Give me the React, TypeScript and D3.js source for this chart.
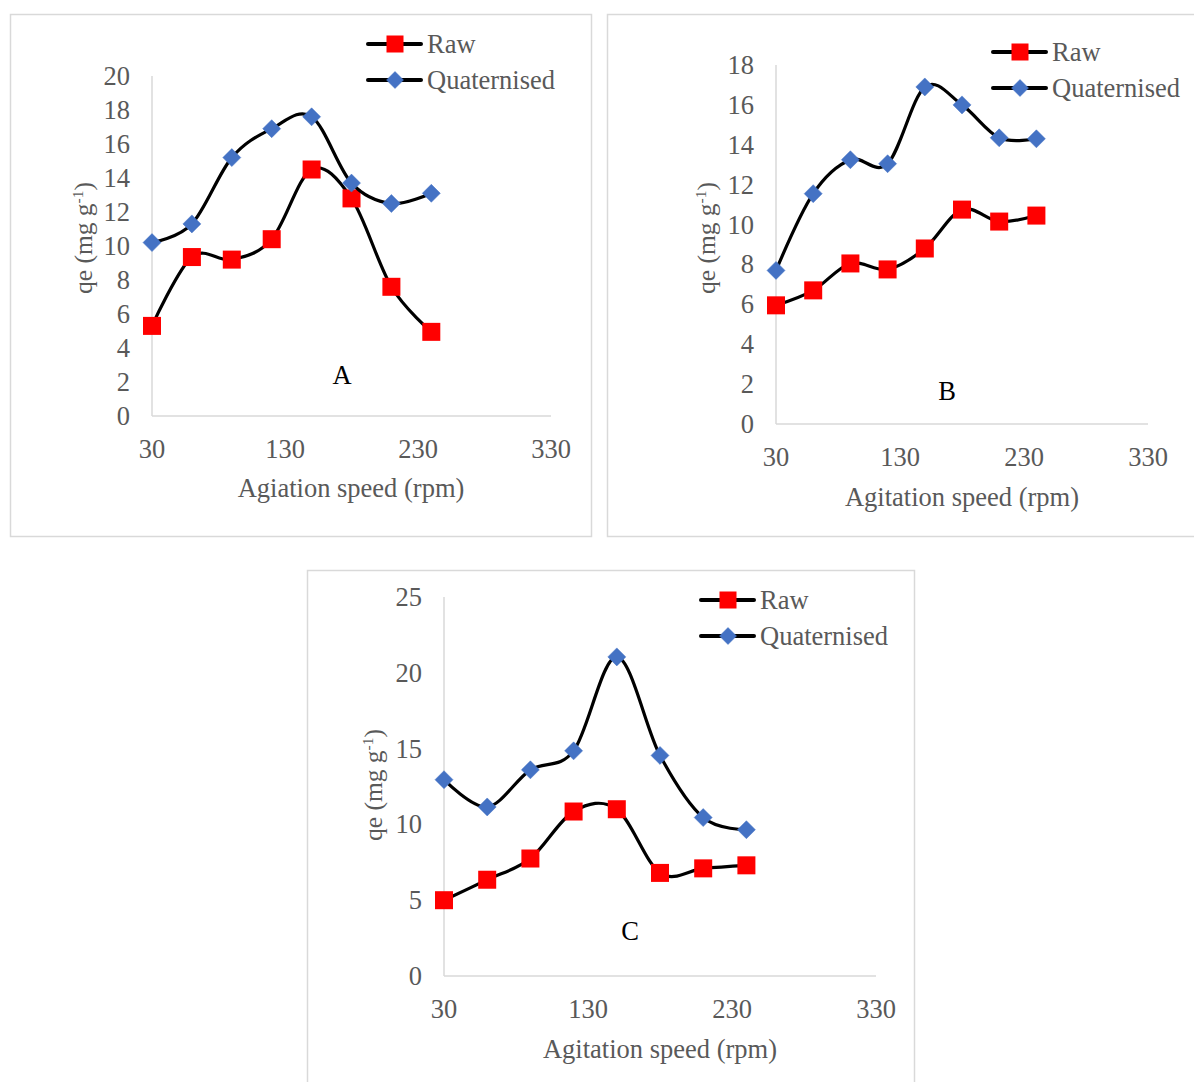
import React from "react";
import * as d3 from "d3";

// ---------- data ----------
const speeds = [30, 60, 90, 120, 150, 180, 210, 240];

const rawA = [5.3, 9.35, 9.2, 10.4, 14.5, 12.8, 7.6, 4.95];
const quatA = [10.2, 11.3, 15.2, 16.9, 17.6, 13.7, 12.5, 13.1];

const rawB = [5.95, 6.7, 8.05, 7.75, 8.8, 10.75, 10.15, 10.45];
const quatB = [7.7, 11.55, 13.25, 13.05, 16.9, 16.0, 14.35, 14.3];

const rawC = [5.0, 6.35, 7.75, 10.85, 11.0, 6.8, 7.1, 7.3];
const quatC = [12.95, 11.15, 13.6, 14.85, 21.05, 14.55, 10.45, 9.65];

const xTicks = [30, 130, 230, 330];
const yTicksA = [0, 2, 4, 6, 8, 10, 12, 14, 16, 18, 20];
const yTicksB = [0, 2, 4, 6, 8, 10, 12, 14, 16, 18];
const yTicksC = [0, 5, 10, 15, 20, 25];

const seriesNames = ["Raw", "Quaternised"];
const panelLetters = ["A", "B", "C"];
const xTitles = ["Agiation speed (rpm)", "Agitation speed (rpm)", "Agitation speed (rpm)"];

// ---------- style ----------
const FONT = "'Liberation Serif', 'Times New Roman', serif";
const FS = 26.5;
const GRAY = "#595959";
const AXIS = "#d9d9d9";
const RED = "#ff0000";
const BLUE = "#4472c4";

type Panel = {
  raw: number[];
  quat: number[];
  yTicks: number[];
  box: { x: number; y: number; w: number; h: number };
  plot: { l: number; r: number; t: number; b: number };
  letter: string;
  letterPos: [number, number];
  legend: [number, number];
  xTitle: string;
  xTitlePos: [number, number];
  yTitlePos: [number, number];
};

const panels: Panel[] = [
  {
    raw: rawA,
    quat: quatA,
    yTicks: yTicksA,
    box: { x: 10.5, y: 14.5, w: 581, h: 522 },
    plot: { l: 152, r: 551, t: 76, b: 416 },
    letter: panelLetters[0],
    letterPos: [342, 384],
    legend: [368, 44],
    xTitle: xTitles[0],
    xTitlePos: [351, 497],
    yTitlePos: [92, 238],
  },
  {
    raw: rawB,
    quat: quatB,
    yTicks: yTicksB,
    box: { x: 607.5, y: 14.5, w: 600, h: 522 },
    plot: { l: 776, r: 1148, t: 65, b: 424 },
    letter: panelLetters[1],
    letterPos: [947, 400],
    legend: [993, 52],
    xTitle: xTitles[1],
    xTitlePos: [962, 506],
    yTitlePos: [715, 238],
  },
  {
    raw: rawC,
    quat: quatC,
    yTicks: yTicksC,
    box: { x: 307.5, y: 570.5, w: 607, h: 530 },
    plot: { l: 444, r: 876, t: 597, b: 976 },
    letter: panelLetters[2],
    letterPos: [630, 940],
    legend: [701, 600],
    xTitle: xTitles[2],
    xTitlePos: [660, 1058],
    yTitlePos: [382, 785],
  },
];

function Square({ x, y, s = 18 }: { x: number; y: number; s?: number }) {
  return <rect x={x - s / 2} y={y - s / 2} width={s} height={s} fill={RED} />;
}

function Diamond({ x, y, s = 9 }: { x: number; y: number; s?: number }) {
  return (
    <path
      d={`M${x},${y - s}L${x + s},${y}L${x},${y + s}L${x - s},${y}Z`}
      fill={BLUE}
      stroke={BLUE}
      strokeWidth={0.5}
    />
  );
}

function PanelChart({ p }: { p: Panel }) {
  const x = d3.scaleLinear().domain([30, 330]).range([p.plot.l, p.plot.r]);
  const yMax = p.yTicks[p.yTicks.length - 1];
  const y = d3.scaleLinear().domain([0, yMax]).range([p.plot.b, p.plot.t]);
  const line = d3
    .line<number>()
    .x((_, i) => x(speeds[i]))
    .y((d) => y(d))
    .curve(d3.curveCardinal.tension(0));

  const [lx, ly] = p.legend;
  return (
    <g>
      <rect
        x={p.box.x}
        y={p.box.y}
        width={p.box.w}
        height={p.box.h}
        fill="#fff"
        stroke={AXIS}
        strokeWidth={1.5}
      />
      {/* axes */}
      <line x1={p.plot.l} x2={p.plot.l} y1={p.plot.t} y2={p.plot.b} stroke={AXIS} strokeWidth={1.5} />
      <line x1={p.plot.l} x2={p.plot.r} y1={p.plot.b} y2={p.plot.b} stroke={AXIS} strokeWidth={1.5} />
      {p.yTicks.map((t) => (
        <text
          key={"y" + t}
          x={p.plot.l - 22}
          y={y(t) + 9}
          textAnchor="end"
          fontFamily={FONT}
          fontSize={FS}
          fill={GRAY}
        >
          {t}
        </text>
      ))}
      {xTicks.map((t) => (
        <text
          key={"x" + t}
          x={x(t)}
          y={p.plot.b + 42}
          textAnchor="middle"
          fontFamily={FONT}
          fontSize={FS}
          fill={GRAY}
        >
          {t}
        </text>
      ))}
      {/* titles */}
      <text
        x={p.xTitlePos[0]}
        y={p.xTitlePos[1]}
        textAnchor="middle"
        fontFamily={FONT}
        fontSize={FS}
        fill={GRAY}
      >
        {p.xTitle}
      </text>
      <text
        transform={`translate(${p.yTitlePos[0]},${p.yTitlePos[1]}) rotate(-90)`}
        textAnchor="middle"
        fontFamily={FONT}
        fontSize={25.5}
        fill={GRAY}
      >
        qe (mg g<tspan dy={-9} fontSize={15.5}>-1</tspan>
        <tspan dy={9}>)</tspan>
      </text>
      <text
        x={p.letterPos[0]}
        y={p.letterPos[1]}
        textAnchor="middle"
        fontFamily={FONT}
        fontSize={FS}
        fill="#000"
      >
        {p.letter}
      </text>
      {/* series */}
      <path d={line(p.raw) || ""} fill="none" stroke="#000" strokeWidth={3.2} />
      {p.raw.map((v, i) => (
        <Square key={"r" + i} x={x(speeds[i])} y={y(v)} />
      ))}
      <path d={line(p.quat) || ""} fill="none" stroke="#000" strokeWidth={3.2} />
      {p.quat.map((v, i) => (
        <Diamond key={"q" + i} x={x(speeds[i])} y={y(v)} />
      ))}
      {/* legend */}
      <line x1={lx} x2={lx + 53} y1={ly} y2={ly} stroke="#000" strokeWidth={4} strokeLinecap="round" />
      <Square x={lx + 27} y={ly} s={17} />
      <text x={lx + 59} y={ly + 9} fontFamily={FONT} fontSize={FS} fill={GRAY}>
        {seriesNames[0]}
      </text>
      <line
        x1={lx}
        x2={lx + 53}
        y1={ly + 36}
        y2={ly + 36}
        stroke="#000"
        strokeWidth={4}
        strokeLinecap="round"
      />
      <Diamond x={lx + 27} y={ly + 36} s={8.5} />
      <text x={lx + 59} y={ly + 45} fontFamily={FONT} fontSize={FS} fill={GRAY}>
        {seriesNames[1]}
      </text>
    </g>
  );
}

export default function App() {
  return (
    <svg
      width={1194}
      height={1082}
      style={{ position: "absolute", left: 0, top: 0, background: "#fff" }}
    >
      <rect x={0} y={0} width={1194} height={1082} fill="#fff" />
      {panels.map((p, i) => (
        <PanelChart key={i} p={p} />
      ))}
    </svg>
  );
}
